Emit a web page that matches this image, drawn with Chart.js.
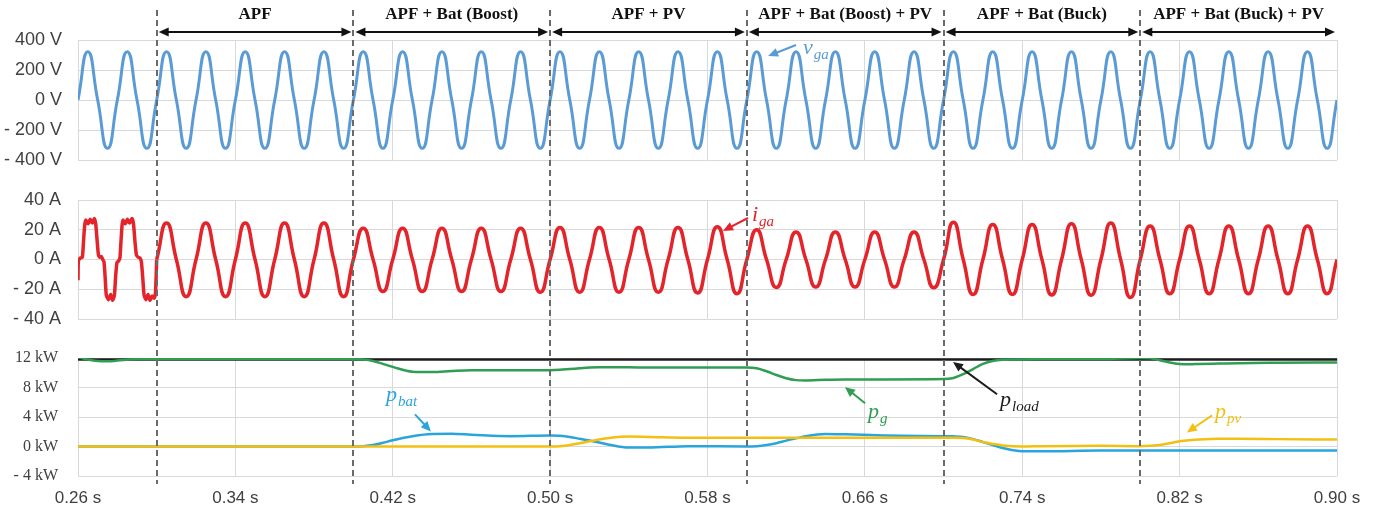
<!DOCTYPE html>
<html><head><meta charset="utf-8">
<script src="https://cdn.jsdelivr.net/npm/chart.js@4.4.1/dist/chart.umd.min.js"></script>
<style>
html,body{margin:0;padding:0;background:#fff;}
#wrap{position:relative;width:1381px;height:511px;background:#fff;}
canvas{position:absolute;left:0;top:0;}
</style></head><body>
<div id="wrap">
<canvas id="cV" width="1381" height="511"></canvas>
<canvas id="cI" width="1381" height="511"></canvas>
<canvas id="cP" width="1381" height="511"></canvas>
</div>
<script>
// ---------------- data ----------------
const X_MIN = 0.26, X_MAX = 0.90;
const xTicks = [0.26, 0.34, 0.42, 0.50, 0.58, 0.66, 0.74, 0.82, 0.90];
const vTicks = [-400, -200, 0, 200, 400];
const iTicks = [-40, -20, 0, 20, 40];
const pTicks = [-4, 0, 4, 8, 12];

const modeBounds = [0.30, 0.40, 0.50, 0.60, 0.70, 0.80, 0.90];
const modeLabels = ['APF', 'APF + Bat (Boost)', 'APF + PV', 'APF + Bat (Boost) + PV', 'APF + Bat (Buck)', 'APF + Bat (Buck) + PV'];

// grid voltage v_ga: peak value of each half cycle (10 ms), 0.26 s .. 0.90 s
const vgaPeaks = [
  322,-322,322,-322,322,-322,322,-322,
  322,-322,322,-322,322,-322,322,-322,
  322,-322,322,-322,322,-322,322,-322,
  322,-322,322,-322,322,-322,322,-322,
  322,-322,322,-322,322,-322,322,-322,
  322,-322,322,-322,322,-322,322,-322,
  322,-322,322,-322,322,-322,322,-322,
  322,-322,322,-322,322,-322,322,-322
];

// grid current i_ga before compensation (0.26 s .. 0.30 s)
const igaStartT = [0.2600,0.2602,0.2612,0.2622,0.2628,0.2634,0.2640,0.2651,0.2662,0.2673,0.2683,0.2690,0.2697,0.2704,0.2710,0.2718,0.2726,0.2732,0.2738,0.2744,0.2755,0.2766,0.2776,0.2785,0.2791,0.2798,0.2806,0.2813,0.2818,0.2824,0.2829,0.2840,0.2851,0.2862,0.2874,0.2882,0.2889,0.2897,0.2906,0.2915,0.2922,0.2929,0.2936,0.2946,0.2956,0.2966,0.2977,0.2987,0.2994,0.3000];
const igaStartA = [-14,-1,1,1.5,12,23,26.5,24,27,24.5,27.5,24,13,3,1.5,2,0,-1.5,-12,-24,-27,-23.5,-27.5,-24,-12,-2,-1,1,11,23,26.5,24,27,24.5,27.5,24,13,3,1.5,1,-1.5,-12,-24,-27,-23.5,-27.5,-24.5,-26,-22,0];

// grid current i_ga: peak value of each half cycle, 0.30 s .. 0.90 s
const igaPeaks = [
  24.5,-25,24.5,-25,24.5,-25,24.5,-25,24.5,-25,
  21,-21.5,21,-21.5,21,-21.5,21,-21.5,21,-22,
  21.5,-22,21.5,-22,21.5,-22,21.5,-22.5,22,-23,
  20,-18.8,18.5,-18.5,18.5,-18.5,18.5,-18.5,18.5,-19,
  25,-23.5,23.5,-23.5,23.5,-23.8,24,-24,24.5,-25.5,
  22.5,-23,22.5,-23,22.5,-23,22.5,-23,22.5,-23
];

// powers (kW)
const pTime = [0.26,0.265,0.27,0.275,0.28,0.29,0.30,0.40,0.405,0.41,0.415,0.42,0.43,0.44,0.45,0.46,0.48,0.50,0.505,0.51,0.515,0.52,0.525,0.53,0.54,0.55,0.57,0.60,0.605,0.61,0.615,0.62,0.625,0.63,0.64,0.65,0.67,0.70,0.705,0.71,0.715,0.72,0.725,0.73,0.74,0.75,0.78,0.80,0.805,0.81,0.815,0.82,0.825,0.83,0.84,0.85,0.87,0.90];
const pLoad = [11.8,11.8,11.8,11.8,11.8,11.8,11.8,11.8,11.8,11.8,11.8,11.8,11.8,11.8,11.8,11.8,11.8,11.8,11.8,11.8,11.8,11.8,11.8,11.8,11.8,11.8,11.8,11.8,11.8,11.8,11.8,11.8,11.8,11.8,11.8,11.8,11.8,11.8,11.8,11.8,11.8,11.8,11.8,11.8,11.8,11.8,11.8,11.8,11.8,11.8,11.8,11.8,11.8,11.8,11.8,11.8,11.8,11.8];
const pGrid = [12.1,11.8,11.6,11.55,11.65,11.85,11.85,11.85,11.8,11.6,11.2,10.8,10.15,10.1,10.25,10.35,10.35,10.35,10.4,10.5,10.6,10.7,10.75,10.75,10.75,10.7,10.7,10.7,10.6,10.2,9.7,9.25,9.0,8.95,9.05,9.1,9.1,9.15,9.3,9.8,10.5,11.2,11.6,11.75,11.8,11.85,11.85,12.0,11.95,11.7,11.4,11.2,11.15,11.2,11.25,11.3,11.35,11.4];
const pBat = [0,0,0,0,0,0,0,0,0.05,0.2,0.5,0.85,1.4,1.7,1.72,1.6,1.4,1.5,1.45,1.3,1.05,0.8,0.55,0.25,-0.15,-0.15,0.05,0,0.05,0.2,0.45,0.8,1.1,1.4,1.7,1.65,1.5,1.4,1.38,1.3,1.0,0.6,0.2,-0.2,-0.65,-0.65,-0.55,-0.55,-0.55,-0.55,-0.55,-0.55,-0.55,-0.55,-0.55,-0.55,-0.55,-0.55];
const pPv = [0,0,0,0,0,0,0,0,0,0,0,0,0,0,0,0,0,0,0.05,0.2,0.45,0.7,0.95,1.15,1.35,1.3,1.2,1.18,1.18,1.18,1.18,1.18,1.18,1.18,1.2,1.2,1.2,1.2,1.2,1.15,0.95,0.6,0.35,0.15,0,0.05,0.1,0.05,0.1,0.2,0.45,0.7,0.85,0.95,1.05,1.05,1.0,0.95];

// ---------------- helpers ----------------
function halfCyclePoints(t0, peaks) {
  const pts = [{x: t0, y: 0}];
  peaks.forEach((p, k) => {
    pts.push({x: t0 + 0.01 * k + 0.005, y: p});
    pts.push({x: t0 + 0.01 * (k + 1), y: 0});
  });
  return pts;
}
const zip = (xs, ys) => xs.map((x, k) => ({x, y: ys[k]}));

const COL = {v:'#5b9bd5', i:'#e3242b', g:'#2f9e52', load:'#1c1c1c', bat:'#2aa5dc', pv:'#f3c012'};
const LABEL_COLOR = '#404040';
const GRID = '#d9d9d9';

const annotations = {
  v: [{main:'v', sub:'ga', color:COL.v, t:0.6285, val:307, from:[0.625,367], to:[0.6108,293]}],
  i: [{main:'i', sub:'ga', color:COL.i, t:0.6026, val:25.9, from:[0.6006,27.9], to:[0.5879,19.2]}],
  p: [
    {main:'p', sub:'bat', color:COL.bat, t:0.4166, val:6.14, from:[0.4313,4.36], to:[0.4394,2.05]},
    {main:'p', sub:'g', color:COL.g, t:0.6616, val:3.82, from:[0.6601,5.87], to:[0.6499,8.05]},
    {main:'p', sub:'load', color:COL.load, t:0.7287, val:5.46, from:[0.7272,7.09], to:[0.7048,11.46]},
    {main:'p', sub:'pv', color:COL.pv, t:0.838, val:3.82, from:[0.8365,4.23], to:[0.8237,1.91]}
  ]
};

function drawArrowHead(ctx, x1, y1, x2, y2, head) {
  const a = Math.atan2(y2 - y1, x2 - x1);
  const c = Math.cos(a), s = Math.sin(a), w = head * 0.45;
  ctx.beginPath();
  ctx.moveTo(x2, y2);
  ctx.lineTo(x2 - head * c + w * s, y2 - head * s - w * c);
  ctx.lineTo(x2 - head * c - w * s, y2 - head * s + w * c);
  ctx.closePath();
  ctx.fill();
}
function drawArrow(ctx, x1, y1, x2, y2, color, lw, head) {
  const a = Math.atan2(y2 - y1, x2 - x1);
  ctx.save();
  ctx.strokeStyle = color; ctx.fillStyle = color; ctx.lineWidth = lw;
  ctx.beginPath();
  ctx.moveTo(x1, y1);
  ctx.lineTo(x2 - Math.cos(a) * head * 0.7, y2 - Math.sin(a) * head * 0.7);
  ctx.stroke();
  drawArrowHead(ctx, x1, y1, x2, y2, head);
  ctx.restore();
}

const annotPlugin = {
  id: 'annot',
  afterDatasetsDraw(chart) {
    const list = chart.options.plugins.annot.items || [];
    const ctx = chart.ctx, xs = chart.scales.x, ys = chart.scales.y;
    list.forEach(a => {
      drawArrow(ctx, xs.getPixelForValue(a.from[0]), ys.getPixelForValue(a.from[1]),
        xs.getPixelForValue(a.to[0]), ys.getPixelForValue(a.to[1]), a.color, 2, 10);
      const x = xs.getPixelForValue(a.t), y = ys.getPixelForValue(a.val);
      ctx.save();
      ctx.fillStyle = a.color;
      ctx.textBaseline = 'alphabetic';
      ctx.textAlign = 'left';
      ctx.font = 'italic 22px "Liberation Serif"';
      ctx.fillText(a.main, x, y);
      const w = ctx.measureText(a.main).width;
      ctx.font = 'italic 15px "Liberation Serif"';
      ctx.fillText(a.sub, x + w + 1, y + 5);
      ctx.restore();
    });
  }
};

const modesPlugin = {
  id: 'modes',
  afterDraw(chart) {
    const ctx = chart.ctx, xs = chart.scales.x;
    ctx.save();
    // dashed separators
    ctx.strokeStyle = '#6a6a6a'; ctx.lineWidth = 2; ctx.setLineDash([6, 4]);
    for (let k = 0; k < modeBounds.length - 1; k++) {
      const x = Math.round(xs.getPixelForValue(modeBounds[k]));
      ctx.beginPath(); ctx.moveTo(x, 10); ctx.lineTo(x, 484); ctx.stroke();
    }
    ctx.setLineDash([]);
    // arrows and labels
    ctx.strokeStyle = '#111'; ctx.fillStyle = '#111'; ctx.lineWidth = 2;
    ctx.font = 'bold 17px "Liberation Serif"';
    ctx.textAlign = 'center'; ctx.textBaseline = 'middle';
    for (let k = 0; k < modeLabels.length; k++) {
      const xa = xs.getPixelForValue(modeBounds[k]) + 2;
      const xb = xs.getPixelForValue(modeBounds[k + 1]) - 2;
      const y = 32;
      ctx.beginPath(); ctx.moveTo(xa + 6, y); ctx.lineTo(xb - 6, y); ctx.stroke();
      drawArrowHead(ctx, xa + 20, y, xa, y, 10);
      drawArrowHead(ctx, xb - 20, y, xb, y, 10);
      ctx.fillText(modeLabels[k], (xa + xb) / 2, 15);
    }
    ctx.restore();
  }
};

function xScale(showLabels, axisH) {
  return {
    type: 'linear', min: X_MIN, max: X_MAX,
    afterBuildTicks: s => { s.ticks = xTicks.map(v => ({value: v})); },
    afterFit: s => { s.height = axisH; s.paddingLeft = 0; s.paddingRight = 0; },
    grid: {color: GRID, lineWidth: 1, drawTicks: false},
    border: {display: false},
    ticks: {display: showLabels, padding: 12, color: LABEL_COLOR, autoSkip: false, maxRotation: 0,
      font: {family: 'Liberation Sans', size: 17},
      callback: v => Number(v).toFixed(2) + ' s'}
  };
}
function yScale(min, max, ticks, unit, font, pad) {
  return {
    type: 'linear', min, max,
    afterBuildTicks: s => { s.ticks = ticks.map(v => ({value: v})); },
    afterFit: s => { s.width = 78; s.paddingTop = 0; s.paddingBottom = 0; },
    grid: {color: GRID, lineWidth: 1, drawTicks: false},
    border: {display: false},
    ticks: {padding: pad, color: LABEL_COLOR, autoSkip: false, font,
      callback: v => (v < 0 ? '- ' + Math.abs(v) : String(v)) + ' ' + unit}
  };
}
function baseOptions(padding, scales, annotItems) {
  return {
    responsive: false, animation: false, events: [],
    layout: {padding},
    scales,
    plugins: {legend: {display: false}, tooltip: {enabled: false}, annot: {items: annotItems}}
  };
}

// voltage
new Chart(document.getElementById('cV'), {
  type: 'line',
  data: {datasets: [{data: halfCyclePoints(X_MIN, vgaPeaks), borderColor: COL.v, borderWidth: 3,
    pointRadius: 0, tension: 0.55}]},
  options: baseOptions({left: 0, right: 44, top: 40, bottom: 351},
    {x: xScale(false, 0), y: yScale(-400, 400, vTicks, 'V', {family: 'Liberation Sans', size: 18}, 16)},
    annotations.v),
  plugins: [annotPlugin]
});

// current
new Chart(document.getElementById('cI'), {
  type: 'line',
  data: {datasets: [
    {data: zip(igaStartT, igaStartA), borderColor: COL.i, borderWidth: 3.5, pointRadius: 0, tension: 0.2},
    {data: halfCyclePoints(0.30, igaPeaks), borderColor: COL.i, borderWidth: 3.5, pointRadius: 0, tension: 0.55}
  ]},
  options: baseOptions({left: 0, right: 44, top: 200, bottom: 192},
    {x: xScale(false, 0), y: yScale(-40, 40, iTicks, 'A', {family: 'Liberation Sans', size: 18}, 17)},
    annotations.i),
  plugins: [annotPlugin]
});

// power
new Chart(document.getElementById('cP'), {
  type: 'line',
  data: {datasets: [
    {label: 'p_g', data: zip(pTime, pGrid), borderColor: COL.g, borderWidth: 2.5, pointRadius: 0, cubicInterpolationMode: 'monotone'},
    {label: 'p_load', data: zip(pTime, pLoad), borderColor: COL.load, borderWidth: 2.5, pointRadius: 0, cubicInterpolationMode: 'monotone'},
    {label: 'p_pv', data: zip(pTime, pPv), borderColor: COL.pv, borderWidth: 2.5, pointRadius: 0, cubicInterpolationMode: 'monotone'},
    {label: 'p_bat', data: zip(pTime, pBat), borderColor: COL.bat, borderWidth: 2.5, pointRadius: 0, cubicInterpolationMode: 'monotone'}
  ]},
  options: baseOptions({left: 0, right: 44, top: 358, bottom: 0},
    {x: xScale(true, 35), y: yScale(-4, 12, pTicks, 'kW', {family: 'Liberation Serif', size: 16}, 20)},
    annotations.p),
  plugins: [annotPlugin, modesPlugin]
});
</script>
</body></html>
